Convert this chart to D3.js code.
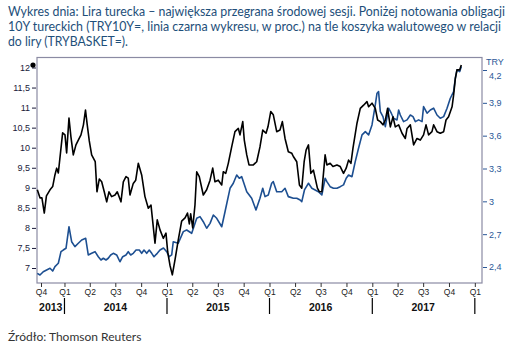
<!DOCTYPE html>
<html>
<head>
<meta charset="utf-8">
<script src="https://cdnjs.cloudflare.com/ajax/libs/d3/7.8.5/d3.min.js"></script>
<style>
  body { margin: 0; background: #fff; }
  .axis text { font-family: "Liberation Sans", Arial, sans-serif; }
</style>
</head>
<body>
<div id="chart"></div>
<script>
// TRY10Y yield (black, left axis, %), dates as decimal years
const bondDates = [2013.735,2013.761,2013.780,2013.803,2013.824,2013.859,2013.885,2013.907,2013.924,2013.940,2013.966,2013.982,2014.005,2014.021,2014.044,2014.063,2014.086,2014.112,2014.135,2014.161,2014.185,2014.205,2014.222,2014.242,2014.265,2014.300,2014.317,2014.340,2014.363,2014.388,2014.412,2014.434,2014.460,2014.493,2014.515,2014.551,2014.574,2014.600,2014.622,2014.639,2014.671,2014.695,2014.720,2014.753,2014.785,2014.818,2014.844,2014.883,2014.905,2014.932,2014.964,2014.990,2015.007,2015.029,2015.052,2015.078,2015.110,2015.143,2015.176,2015.200,2015.218,2015.231,2015.251,2015.273,2015.290,2015.315,2015.354,2015.387,2015.420,2015.446,2015.468,2015.500,2015.534,2015.549,2015.573,2015.598,2015.631,2015.663,2015.696,2015.712,2015.739,2015.754,2015.778,2015.800,2015.842,2015.875,2015.907,2015.934,2015.966,2015.985,2016.012,2016.037,2016.070,2016.102,2016.125,2016.151,2016.183,2016.217,2016.232,2016.265,2016.291,2016.314,2016.337,2016.356,2016.379,2016.402,2016.427,2016.466,2016.486,2016.509,2016.541,2016.558,2016.590,2016.617,2016.656,2016.688,2016.720,2016.746,2016.769,2016.792,2016.812,2016.851,2016.883,2016.915,2016.948,2016.964,2016.997,2017.029,2017.052,2017.078,2017.104,2017.127,2017.149,2017.176,2017.202,2017.224,2017.257,2017.290,2017.322,2017.339,2017.371,2017.403,2017.436,2017.468,2017.500,2017.524,2017.549,2017.582,2017.598,2017.631,2017.663,2017.696,2017.719,2017.744,2017.778,2017.793,2017.810,2017.826,2017.852,2017.868];
const bondYield = [8.95,8.75,8.75,8.37,8.80,8.95,9.03,9.32,9.49,9.37,9.99,10.37,10.32,9.87,10.74,10.27,9.82,10.07,10.19,10.32,10.57,10.94,10.57,10.17,9.82,9.65,8.90,9.22,9.15,8.90,8.65,8.90,8.78,8.82,8.90,8.65,9.15,9.28,9.24,8.82,9.11,9.19,9.61,9.32,8.78,8.49,8.57,7.62,8.20,7.95,7.74,7.87,7.40,7.07,6.83,7.20,7.70,8.17,8.25,8.37,8.10,8.35,8.00,8.57,9.40,9.28,8.82,8.95,9.19,9.49,9.15,9.19,9.07,9.40,9.36,9.61,10.02,10.40,10.48,10.32,10.65,10.19,9.82,9.57,9.57,9.65,10.02,10.44,10.36,10.52,10.90,10.82,10.40,10.44,10.65,10.23,9.90,9.86,9.78,9.65,9.07,8.99,9.65,9.94,10.07,9.36,9.44,8.99,8.90,8.90,9.82,9.57,9.61,9.53,9.57,9.53,9.36,9.49,9.69,9.61,9.99,10.61,10.98,11.06,11.15,11.02,11.11,10.98,10.69,10.65,10.57,10.69,10.98,10.52,10.77,10.52,10.57,10.36,10.23,10.48,10.57,10.07,10.23,10.19,10.32,10.57,10.32,10.40,10.57,10.40,10.36,10.40,10.69,10.77,11.02,11.31,11.73,11.94,11.94,12.06];

// TRYBASKET (blue, right axis)
const basketDates = [2013.735,2013.761,2013.793,2013.826,2013.859,2013.885,2013.907,2013.940,2013.966,2013.988,2014.015,2014.044,2014.070,2014.102,2014.135,2014.168,2014.207,2014.232,2014.265,2014.298,2014.330,2014.356,2014.379,2014.405,2014.427,2014.451,2014.476,2014.509,2014.541,2014.568,2014.600,2014.622,2014.646,2014.671,2014.698,2014.730,2014.753,2014.776,2014.802,2014.827,2014.851,2014.873,2014.905,2014.932,2014.966,2014.997,2015.022,2015.046,2015.061,2015.110,2015.159,2015.192,2015.241,2015.290,2015.322,2015.354,2015.387,2015.420,2015.452,2015.485,2015.534,2015.566,2015.615,2015.647,2015.680,2015.705,2015.729,2015.778,2015.826,2015.868,2015.907,2015.934,2015.956,2015.988,2016.021,2016.037,2016.070,2016.119,2016.151,2016.183,2016.232,2016.265,2016.298,2016.314,2016.340,2016.379,2016.412,2016.444,2016.476,2016.509,2016.541,2016.558,2016.590,2016.622,2016.656,2016.688,2016.720,2016.746,2016.769,2016.802,2016.834,2016.866,2016.900,2016.932,2016.964,2016.997,2017.029,2017.046,2017.061,2017.078,2017.104,2017.127,2017.159,2017.185,2017.208,2017.241,2017.257,2017.273,2017.305,2017.339,2017.371,2017.397,2017.420,2017.452,2017.485,2017.500,2017.534,2017.566,2017.598,2017.631,2017.663,2017.696,2017.729,2017.761,2017.793,2017.810,2017.826,2017.852,2017.868];
const basketValues = [2.342,2.327,2.357,2.373,2.388,2.363,2.403,2.434,2.540,2.555,2.571,2.768,2.631,2.586,2.617,2.647,2.662,2.510,2.525,2.540,2.494,2.464,2.480,2.464,2.480,2.510,2.525,2.510,2.448,2.494,2.510,2.540,2.510,2.525,2.555,2.555,2.525,2.555,2.525,2.555,2.525,2.494,2.525,2.555,2.574,2.540,2.494,2.510,2.631,2.617,2.723,2.738,2.708,2.845,2.860,2.814,2.754,2.799,2.875,2.845,2.768,2.905,3.119,3.165,3.241,3.211,3.225,3.088,3.028,2.921,3.028,3.119,3.043,3.058,3.165,3.180,3.088,3.088,3.119,3.043,3.028,3.028,3.012,2.997,3.104,3.165,3.119,3.104,3.088,3.058,3.211,3.180,3.134,3.119,3.119,3.134,3.150,3.211,3.241,3.225,3.363,3.485,3.607,3.637,3.607,3.698,3.881,3.988,4.002,3.820,3.774,3.682,3.851,3.805,3.759,3.744,3.835,3.789,3.728,3.744,3.789,3.774,3.728,3.744,3.728,3.865,3.805,3.835,3.851,3.789,3.759,3.774,3.851,3.942,4.002,4.125,4.201,4.185,4.231];

const leftTicks = [7, 7.5, 8, 8.5, 9, 9.5, 10, 10.5, 11, 11.5, 12];
const rightTicks = [2.4, 2.7, 3, 3.3, 3.6, 3.9, 4.2];
const years = [2013, 2014, 2015, 2016, 2017];
const titleLines = [
  "Wykres dnia: Lira turecka – największa przegrana środowej sesji. Poniżej notowania obligacji",
  "10Y tureckich (TRY10Y=, linia czarna wykresu, w proc.) na tle koszyka walutowego w relacji",
  "do liry (TRYBASKET=)."
];
const sourceText = "Źródło: Thomson Reuters";

// decimal year -> Date
function toDate(t) {
  const y = Math.floor(t);
  const s = new Date(y, 0, 1), e = new Date(y + 1, 0, 1);
  return new Date(+s + (t - y) * (e - s));
}

const W = 515, H = 348;
const plot = { left: 37, right: 482, top: 57.5, bottom: 283 };

const svg = d3.select("#chart").append("svg")
  .attr("width", W).attr("height", H);

// title
svg.append("g").selectAll("text")
  .data(titleLines)
  .enter().append("text")
  .attr("x", 8)
  .attr("y", (d, i) => 16 + i * 15.2)
  .attr("textLength", (d, i) => [497, 493, 120][i])
  .attr("lengthAdjust", "spacingAndGlyphs")
  .style("font-family", "Lato, 'Open Sans', sans-serif")
  .style("font-size", "12.5px")
  .style("fill", "#1e4f7a")
  .text(d => d);

const x = d3.scaleTime()
  .domain([toDate(2013.732), toDate(2018.07)])
  .range([plot.left, plot.right]);
const yL = d3.scaleLinear().domain([7, 12]).range([268, 67.5]);
const yR = d3.scaleLinear().domain([2.4, 4.2]).range([267, 70]);

// frame
svg.append("rect")
  .attr("x", plot.left).attr("y", plot.top)
  .attr("width", plot.right - plot.left).attr("height", plot.bottom - plot.top)
  .attr("fill", "none").attr("stroke", "#8b8ba3").attr("stroke-width", 1.2);

// left axis
const gl = svg.append("g").attr("class", "axis")
  .attr("transform", "translate(" + plot.left + ",0)")
  .call(d3.axisLeft(yL).tickValues(leftTicks).tickSize(4).tickPadding(3)
    .tickFormat(d => String(d).replace(".", ",")));
gl.select(".domain").remove();
gl.selectAll("line").attr("stroke", "#1a1a3a").attr("transform", "translate(-1,0)");
gl.selectAll("text").style("font-size", "9px").style("fill", "#1a1a3a");

// right axis
const gr = svg.append("g").attr("class", "axis")
  .attr("transform", "translate(" + plot.right + ",0)")
  .call(d3.axisRight(yR).tickValues(rightTicks).tickSize(4).tickPadding(3)
    .tickFormat(d => String(d).replace(".", ",")));
gr.select(".domain").remove();
gr.selectAll("line").attr("stroke", "#2b5797").attr("transform", "translate(1,0)");
gr.selectAll("text").style("font-size", "9px").style("fill", "#2b5797");
gr.selectAll(".tick").filter(d => d === 4.2).select("text").attr("dy", "0.95em");

svg.append("text")
  .attr("x", 486).attr("y", 65)
  .style("font-family", "'Liberation Sans', Arial, sans-serif")
  .style("font-size", "9px").style("fill", "#2b5797")
  .text("TRY");

// quarter ticks
const quarters = d3.timeMonth.every(3).range(new Date(2013, 9, 1), new Date(2018, 0, 2));
const gx = svg.append("g").attr("class", "axis")
  .attr("transform", "translate(0," + plot.bottom + ")")
  .call(d3.axisBottom(x).tickValues(quarters).tickSize(4).tickPadding(2)
    .tickFormat(d => "Q" + (Math.floor(d.getMonth() / 3) + 1)));
gx.select(".domain").remove();
gx.selectAll("line").attr("stroke", "#333");
gx.selectAll("text").style("font-size", "8.5px").style("fill", "#222");
gx.selectAll(".tick").filter((d, i) => i === 0).attr("transform", "translate(41.5,0)");

// year separators and labels
const yearStarts = years.slice(1).concat([2018]).map(y => new Date(y, 0, 1));
svg.append("g").selectAll("line")
  .data(yearStarts)
  .enter().append("line")
  .attr("x1", d => x(d)).attr("x2", d => x(d))
  .attr("y1", 298).attr("y2", 314)
  .attr("stroke", "#000").attr("stroke-width", 1.2);

svg.append("g").selectAll("text")
  .data(years)
  .enter().append("text")
  .attr("x", d => d === 2013 ? (plot.left + x(new Date(2014, 0, 1))) / 2 : x(new Date(d, 6, 1)))
  .attr("y", 311)
  .attr("text-anchor", "middle")
  .style("font-family", "'Liberation Sans', Arial, sans-serif")
  .style("font-size", "10.5px").style("font-weight", "bold")
  .style("fill", "#111")
  .text(d => d);

// lines
const basket = d3.zip(basketDates, basketValues);
const bond = d3.zip(bondDates, bondYield);

svg.append("path")
  .datum(basket)
  .attr("fill", "none").attr("stroke", "#1d4f91").attr("stroke-width", 1.6)
  .attr("stroke-linejoin", "round")
  .attr("d", d3.line().x(d => x(toDate(d[0]))).y(d => yR(d[1])));

svg.append("path")
  .datum(bond)
  .attr("fill", "none").attr("stroke", "#000").attr("stroke-width", 1.6)
  .attr("stroke-linejoin", "round")
  .attr("d", d3.line().x(d => x(toDate(d[0]))).y(d => yL(d[1])));

// last value marker on the left axis
svg.append("circle")
  .attr("cx", 33).attr("cy", yL(bondYield[bondYield.length - 1]))
  .attr("r", 2.6).attr("fill", "#000");

// source
svg.append("text")
  .attr("x", 8).attr("y", 341)
  .style("font-family", "Lato, 'Open Sans', sans-serif")
  .style("font-size", "12px").style("fill", "#333")
  .text(sourceText);
</script>
</body>
</html>
